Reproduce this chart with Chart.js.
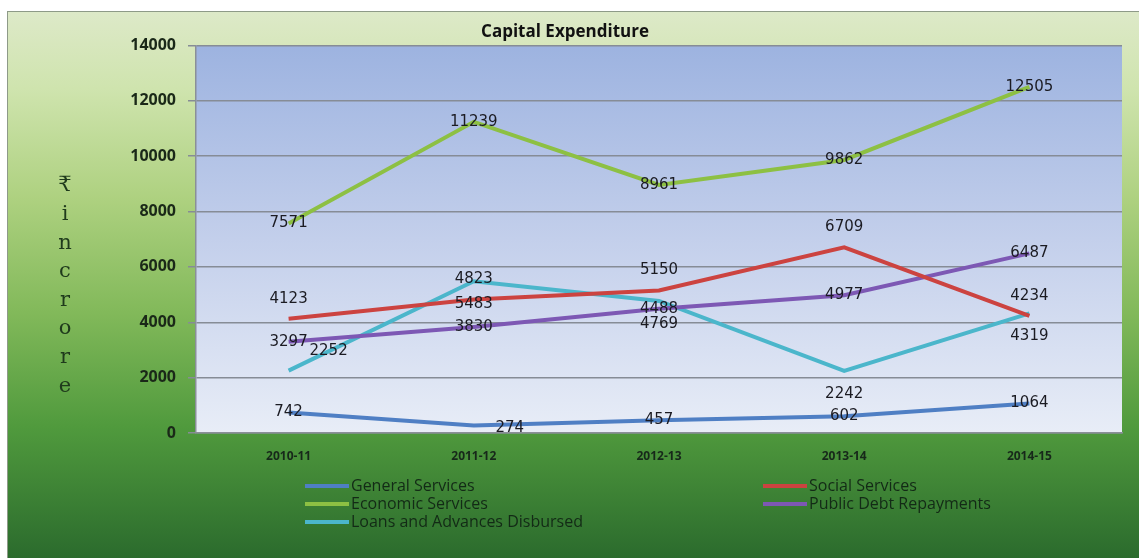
<!DOCTYPE html>
<html>
<head>
<meta charset="utf-8">
<script src="https://cdn.jsdelivr.net/npm/chart.js@4.4.1/dist/chart.umd.min.js"></script>
<style>
  html, body { margin: 0; padding: 0; background: #fff; overflow: hidden; }
  #frame {
    position: absolute; left: 7px; top: 11px;
    width: 1240px; height: 546px;
    border-top: 1px solid #8e9a88; border-left: 1px solid #8e9a88;
    background: linear-gradient(to bottom, #dde9c8 0%, #cfe4ae 14%, #aed180 34%, #82b95a 55%, #509a3d 76%, #2b6b2d 100%);
  }
  canvas { display: block; }
</style>
</head>
<body>
<div id="frame"><canvas id="capex" width="1240" height="546"></canvas></div>
<script>
// --- dados ---
const categories = ['2010-11', '2011-12', '2012-13', '2013-14', '2014-15'];
const generalServices = [742, 274, 457, 602, 1064];
const socialServices = [4123, 4823, 5150, 6709, 4234];
const economicServices = [7571, 11239, 8961, 9862, 12505];
const publicDebtRepayments = [3297, 3830, 4488, 4977, 6487];
const loansAdvances = [2252, 5483, 4769, 2242, 4319];
const yAxisText = '₹ in crore';

// rótulos de dados: posição relativa ao ponto (centro, acima, abaixo)
const LABEL_DY = { center: 0, above: -20, below: 23 };

function series(label, data, color, labelPos, labelNudge) {
    return {
        label, data,
        borderColor: color,
        backgroundColor: color,
        borderWidth: 4,
        pointRadius: 0,
        tension: 0,
        labelPos,
        labelNudge: labelNudge || {}
    };
}

const datasets = [
    series('General Services', generalServices, '#4f7fc4', 'center', { 1: [36, 3] }),
    series('Social Services', socialServices, '#cc4340', 'above'),
    series('Economic Services', economicServices, '#8dc043', 'center'),
    series('Public Debt Repayments', publicDebtRepayments, '#7d58b4', 'center'),
    series('Loans and Advances Disbursed', loansAdvances, '#4bb6cb', 'below', { 0: [40, -20] })
];

// fundo azul degradê da área de plotagem
const plotBackground = {
    id: 'plotBackground',
    beforeDraw(chart) {
        const { ctx, chartArea: a } = chart;
        const g = ctx.createLinearGradient(0, a.top, 0, a.bottom);
        g.addColorStop(0, '#9db3e0');
        g.addColorStop(0.5, '#c3cfeb');
        g.addColorStop(1, '#e8edf7');
        ctx.save();
        ctx.fillStyle = g;
        ctx.fillRect(a.left, a.top, a.right - a.left, a.bottom - a.top);
        ctx.restore();
    }
};

// valores escritos junto aos pontos
const dataLabels = {
    id: 'dataLabels',
    afterDatasetsDraw(chart) {
        const ctx = chart.ctx;
        ctx.save();
        ctx.font = '15px "DejaVu Sans", sans-serif';
        ctx.fillStyle = '#1b1b22';
        ctx.textAlign = 'center';
        ctx.textBaseline = 'middle';
        chart.data.datasets.forEach((ds, i) => {
            const meta = chart.getDatasetMeta(i);
            meta.data.forEach((pt, j) => {
                let dx = 0, dy = LABEL_DY[ds.labelPos] || 0;
                const n = ds.labelNudge[j];
                if (n) { dx = n[0]; dy = n[1]; }
                ctx.fillText(String(ds.data[j]), pt.x + dx, pt.y + dy);
            });
        });
        ctx.restore();
    }
};

// título do eixo Y com letras empilhadas
const yAxisTitle = {
    id: 'yAxisTitle',
    afterDraw(chart) {
        const ctx = chart.ctx;
        ctx.save();
        ctx.font = '21px "DejaVu Serif", serif';
        ctx.fillStyle = '#1f3a1c';
        ctx.textAlign = 'center';
        ctx.textBaseline = 'middle';
        const letters = yAxisText.replace(/\s+/g, '').split('');
        letters.forEach((ch, i) => ctx.fillText(ch, 57, 174 + i * 28.6));
        ctx.restore();
    }
};

// legenda em duas colunas abaixo do eixo X
const twoColLegend = {
    id: 'twoColLegend',
    afterDraw(chart) {
        const ctx = chart.ctx;
        const cols = [297, 755];
        const rowY = 474, rowH = 18, lineW = 44;
        ctx.save();
        ctx.font = '16px "Open Sans", sans-serif';
        ctx.textBaseline = 'middle';
        chart.data.datasets.forEach((ds, i) => {
            const x = cols[i % 2];
            const y = rowY + Math.floor(i / 2) * rowH;
            ctx.strokeStyle = ds.borderColor;
            ctx.lineWidth = 4;
            ctx.beginPath();
            ctx.moveTo(x, y);
            ctx.lineTo(x + lineW, y);
            ctx.stroke();
            ctx.fillStyle = '#132a16';
            ctx.fillText(ds.label, x + lineW + 2, y);
        });
        ctx.restore();
    }
};

new Chart(document.getElementById('capex'), {
    type: 'line',
    data: { labels: categories, datasets },
    options: {
        responsive: false,
        animation: false,
        layout: { padding: { top: 0, right: 126, bottom: 85, left: 0 } },
        plugins: {
            legend: { display: false },
            tooltip: { enabled: false },
            title: {
                display: true,
                text: 'Capital Expenditure',
                color: '#111',
                font: { family: '"Open Sans", sans-serif', size: 17, weight: 'bold' },
                padding: { top: 10, bottom: 3 }
            }
        },
        scales: {
            x: {
                offset: true,
                grid: { display: false, drawTicks: true, tickLength: 6 },
                border: { color: '#8a8f98', width: 1.5 },
                ticks: {
                    color: '#17281a',
                    padding: 10,
                    font: { family: '"Open Sans", sans-serif', size: 12, weight: 'bold' }
                },
                afterFit(scale) { scale.height = 40; }
            },
            y: {
                min: 0, max: 14000,
                grid: { color: '#868c96', lineWidth: 1.5, tickLength: 8 },
                border: { color: '#8a8f98', width: 1.5 },
                ticks: {
                    stepSize: 2000,
                    color: '#1a2818',
                    padding: 12,
                    font: { family: '"Open Sans", sans-serif', size: 16, weight: 'bold' },
                    callback: (v) => String(v)
                },
                afterFit(scale) { scale.width = 188; }
            }
        }
    },
    plugins: [plotBackground, dataLabels, yAxisTitle, twoColLegend]
});
</script>
</body>
</html>
